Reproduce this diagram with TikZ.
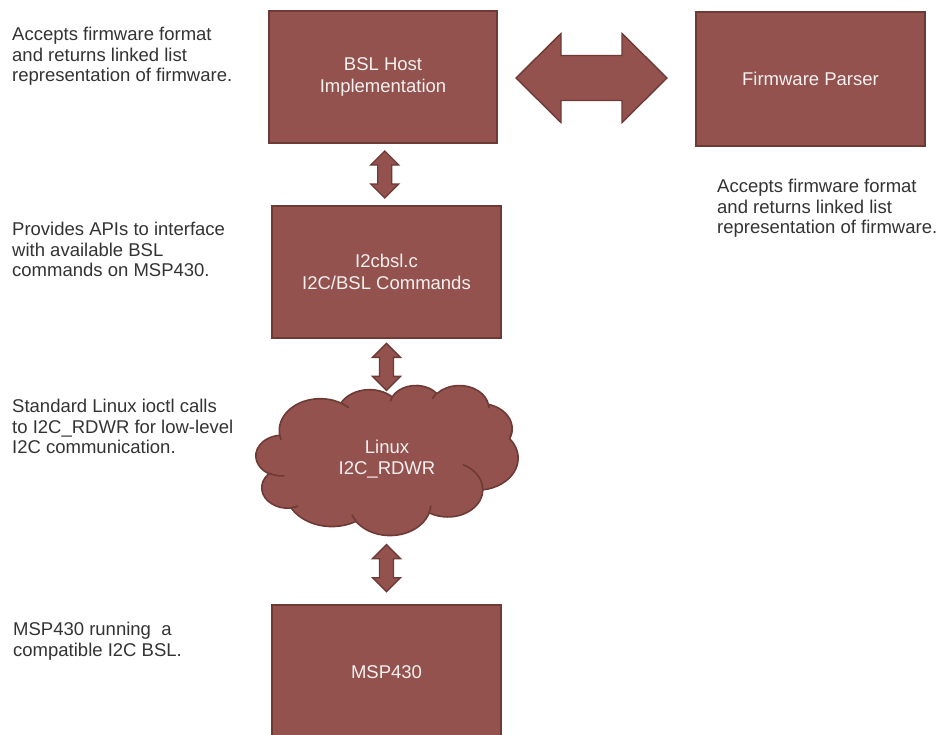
\documentclass[tikz,border=0pt]{standalone}
\usepackage{fontspec}
\setmainfont{Liberation Sans}
\usetikzlibrary{calc}
\definecolor{boxfill}{HTML}{93524E}
\definecolor{boxline}{HTML}{6E3A36}
\definecolor{txt}{HTML}{333333}
\definecolor{boxtxt}{HTML}{F4F0F0}
\tikzset{
  blk/.style={draw=boxline, line width=1.6pt, fill=boxfill, text=boxtxt,
    minimum width=228pt, minimum height=132pt, align=center,
    font=\fontsize{18.5}{21.5}\selectfont, inner sep=0pt},
  cloudtext/.style={text=boxtxt, align=center, inner sep=0pt,
    minimum width=262pt, minimum height=150pt,
    font=\fontsize{18.5}{21.5}\selectfont},
  cloudline/.style={draw=boxline, line width=1.6pt, line join=round},
  desc/.style={text=txt, align=left, anchor=north west, inner sep=0pt,
    font=\fontsize{18.5}{20.5}\selectfont},
  arrowfill/.style={draw=boxline, line width=1.4pt, fill=boxfill, line join=miter},
  pics/varrow/.style={code={
    \path[arrowfill] (0,-23.5) -- (14,-9.5) -- (7,-9.5) -- (7,9.5) -- (14,9.5)
      -- (0,23.5) -- (-14,9.5) -- (-7,9.5) -- (-7,-9.5) -- (-14,-9.5) -- cycle;}},
  pics/harrow/.style={code={
    \path[arrowfill] (-75.5,0) -- (-30.5,-44.5) -- (-30.5,-22.5) -- (30.5,-22.5)
      -- (30.5,-44.5) -- (75.5,0) -- (30.5,44.5) -- (30.5,22.5) -- (-30.5,22.5)
      -- (-30.5,44.5) -- cycle;}}
}
\begin{document}
\begin{tikzpicture}[x=1pt,y=-1pt]
\useasboundingbox (0,0) rectangle (940,734);
\clip (0,0) rectangle (940,734);
\node[blk] (bsl) at (383,77) {BSL Host\\Implementation};
\node[blk, minimum width=229pt, minimum height=134pt] (fw) at (810.5,79) {Firmware Parser};
\node[blk, minimum width=229pt] (i2c) at (386.5,272) {I2cbsl.c\\I2C/BSL Commands};

% cloud outline (scaled 432 x 432 unit box)
\begin{scope}[shift={(256,385)}, x=0.60648pt, y=-0.34722pt]
\path[cloudline, fill=boxfill] (39,143.7)
  arc[start angle=-187.745, end angle=-59.636, x radius=67.53, y radius=91.90]
  arc[start angle=-152.037, end angle=-45.459, x radius=53.33, y radius=72.67]
  arc[start angle=-153.498, end angle=-37.322, x radius=43.65, y radius=59.45]
  arc[start angle=-139.713, end angle=-10.212, x radius=48.57, y radius=65.95]
  arc[start angle=-74.769, end angle=23.212, x radius=53.33, y radius=72.73]
  arc[start angle=-37.522, end angle=81.862, x radius=67.75, y radius=92.20]
  arc[start angle=0.4596, end angle=121.973, x radius=57.85, y radius=78.67]
  arc[start angle=16.845, end angle=146.218, x radius=67.52, y radius=92.15]
  arc[start angle=59.038, end angle=150.184, x radius=77.20, y radius=105.43]
  arc[start angle=-276.695, end angle=-136.892, x radius=43.60, y radius=59.18]
  arc[start angle=-239.642, end angle=-95.887, x radius=43.45, y radius=59.45]
  -- cycle;
\path[cloudline]
  (46.93,261.77) arc[start angle=85.542, end angle=120.358, x radius=43.45, y radius=59.45]
  (69.28,348.99) arc[start angle=68.27, end angle=83.30, x radius=43.60, y radius=59.18]
  (164.78,390.90) arc[start angle=146.218, end angle=158.473, x radius=67.52, y radius=92.15]
  (288.27,347.51) arc[start angle=4.738, end angle=16.845, x radius=67.52, y radius=92.15]
  (341.29,229.54) arc[start angle=-64.013, end angle=0.4596, x radius=57.85, y radius=78.67]
  (417.98,153.54) arc[start angle=23.212, end angle=0, x radius=53.33, y radius=72.73]
  (383.24,54.26) arc[start angle=-10.212, end angle=0.817, x radius=48.57, y radius=65.95]
  (290.78,39.52) arc[start angle=-156.289, end angle=-139.713, x radius=48.57, y radius=65.95]
  (221.41,47.20) arc[start angle=-167.727, end angle=-153.50, x radius=43.65, y radius=59.45]
  (140.00,51.92) arc[start angle=-59.636, end angle=-45.738, x radius=67.53, y radius=91.90]
  (41.27,157.89) arc[start angle=163.189, end angle=172.253, x radius=67.53, y radius=91.90];
\end{scope}
\node[cloudtext] (cloud) at (387,459) {Linux\\I2C\_RDWR};
\node[blk, minimum width=229pt, minimum height=134pt] (msp) at (386.5,672) {MSP430};

\pic at ($(bsl.east)!0.5!(fw.west)+(-5,0)$) {harrow};
\pic at ($(bsl.south)!0.5!(i2c.north)$) {varrow};
\pic at ($(i2c.south)+(0,28)$) {varrow};
\pic at ($(msp.north)+(0,-36)$) {varrow};

\node[desc] (d1) at (12,27) {Accepts firmware format\\and returns linked list\\representation of firmware.};
\node[desc] (d2) at (717,179) {Accepts firmware format\\and returns linked list\\representation of firmware.};
\node[desc] (d3) at (12,222) {Provides APIs to interface\\with available BSL\\commands on MSP430.};
\node[desc] (d4) at (12,399) {Standard Linux ioctl calls\\to I2C\_RDWR for low-level\\I2C communication.};
\node[desc] (d5) at (13,622) {MSP430 running\ \ a\\compatible I2C BSL.};
\end{tikzpicture}
\end{document}
